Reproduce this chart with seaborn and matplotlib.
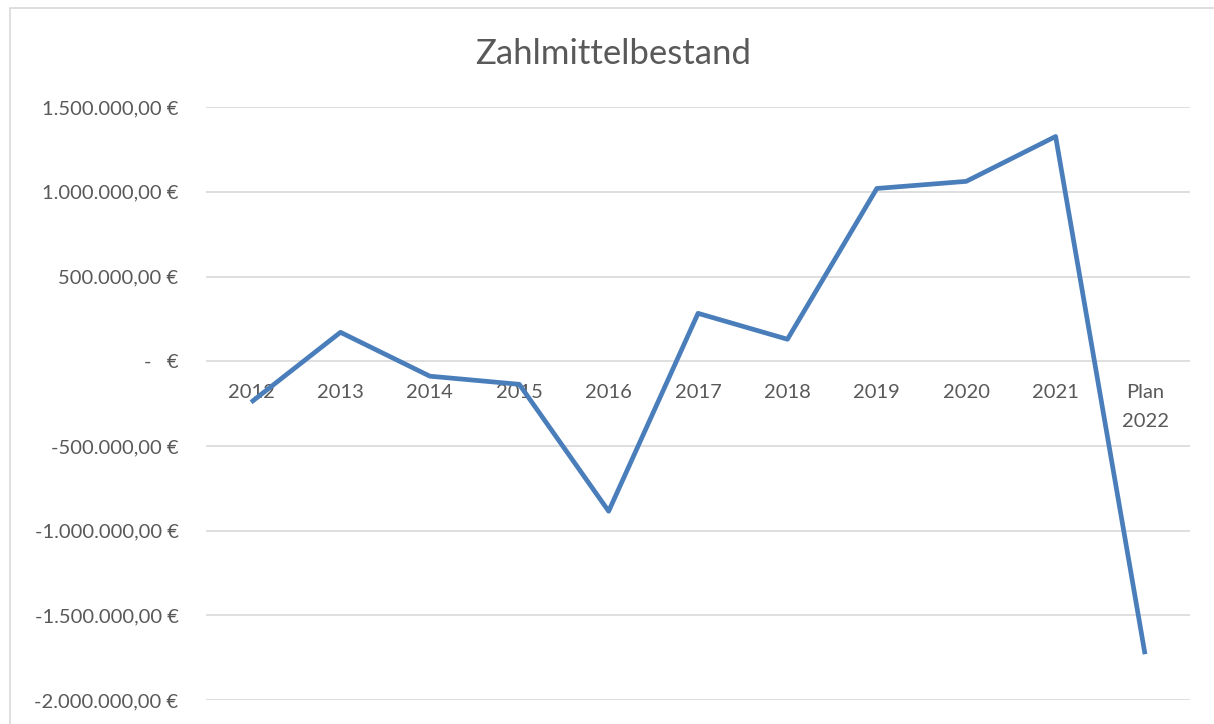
import matplotlib
matplotlib.use("Agg")
import matplotlib.pyplot as plt
import matplotlib.ticker as mticker
from matplotlib.patches import Rectangle
import seaborn as sns
import pandas as pd

# data
years = ["2012", "2013", "2014", "2015", "2016", "2017", "2018",
         "2019", "2020", "2021", "Plan\n2022"]
cash = [-242000, 171000, -88000, -136000, -885000, 283000, 130000,
        1020000, 1062000, 1327000, -1729000]
y_ticks = [1500000, 1000000, 500000, 0, -500000, -1000000, -1500000, -2000000]

df = pd.DataFrame({"pos": range(len(years)), "cash": cash})

sns.set_style("white")
plt.rcParams["font.family"] = ["Lato", "DejaVu Sans"]

text_col = "#595959"
line_col = "#4a7ebb"

fig = plt.figure(figsize=(12.14, 7.24), dpi=100)
ax = fig.add_axes([0.170, 0.033, 0.810, 0.819])

# chart frame like the spreadsheet export
fig.patches.append(Rectangle((10 / 1214, -0.01), 1.0, 1 - 8 / 724 + 0.01,
                             transform=fig.transFigure, fill=False,
                             edgecolor="#d9d9d9", linewidth=1.2))

sns.lineplot(data=df, x="pos", y="cash", ax=ax, color=line_col,
             linewidth=3.4, solid_capstyle="butt", zorder=3)

ax.set_xlim(-0.5, len(years) - 0.5)
ax.set_ylim(-2000000, 1500000)
ax.set_yticks(y_ticks)


def euro(v, pos=None):
    if v == 0:
        return "-   €"
    s = f"{v:,.2f}"
    s = s.replace(",", "X").replace(".", ",").replace("X", ".")
    return s + " €"


ax.yaxis.set_major_formatter(mticker.FuncFormatter(euro))
ax.tick_params(axis="y", length=0, pad=20, labelsize=14.5, labelcolor=text_col)
ax.set_xticks([])
ax.grid(axis="y", color="#d9d9d9", linewidth=1.2)
ax.set_axisbelow(True)
for sp in ax.spines.values():
    sp.set_visible(False)
ax.set_xlabel("")
ax.set_ylabel("")

# category labels sit just under the zero line
for i, lab in enumerate(years):
    ax.annotate(lab, xy=(i, 0), xytext=(0, -23), textcoords="offset pixels",
                ha="center", va="top", fontsize=14.5, color=text_col,
                linespacing=1.85, zorder=2)

fig.text(0.505, 0.926, "Zahlmittelbestand", ha="center", va="center",
         fontsize=25, color=text_col)

fig.savefig("out.png", dpi=100)
